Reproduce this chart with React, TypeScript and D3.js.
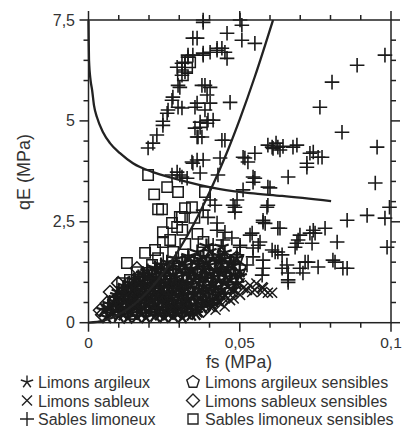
import React from 'react';
import * as d3 from 'd3';

// fs (MPa), qE (MPa)
const limonsArgileux: [number, number][] = [
  [0.006, 0.14], [0.010, 0.17], [0.013, 0.13], [0.016, 0.16], [0.019, 0.14], [0.022, 0.18], [0.025, 0.15], [0.028, 0.17], [0.031, 0.14], [0.034, 0.2],
  [0.0075, 0.23], [0.0115, 0.21], [0.0145, 0.24], [0.0175, 0.22], [0.0205, 0.25], [0.0235, 0.21], [0.0265, 0.23], [0.0295, 0.22], [0.0325, 0.24], [0.0355, 0.22],
  [0.005, 0.31], [0.008, 0.28], [0.011, 0.33], [0.014, 0.29], [0.017, 0.32], [0.020, 0.3], [0.023, 0.34], [0.026, 0.28], [0.029, 0.31], [0.032, 0.35], [0.036, 0.3],
  [0.0065, 0.38], [0.0095, 0.4], [0.0125, 0.37], [0.0155, 0.39], [0.0185, 0.38], [0.0215, 0.4], [0.0245, 0.37], [0.0275, 0.39], [0.0305, 0.38], [0.0335, 0.41], [0.0375, 0.38], [0.041, 0.42],
  [0.007, 0.46], [0.010, 0.43], [0.013, 0.48], [0.016, 0.44], [0.019, 0.47], [0.022, 0.45], [0.025, 0.49], [0.028, 0.43], [0.031, 0.47], [0.035, 0.45], [0.039, 0.5],
  [0.0085, 0.53], [0.0115, 0.55], [0.0145, 0.52], [0.0175, 0.54], [0.0205, 0.53], [0.0235, 0.55], [0.0265, 0.52], [0.0295, 0.54], [0.0325, 0.53], [0.036, 0.55], [0.040, 0.52], [0.043, 0.56],
  [0.009, 0.61], [0.012, 0.58], [0.015, 0.63], [0.018, 0.6], [0.021, 0.57], [0.024, 0.62], [0.027, 0.59], [0.030, 0.64], [0.033, 0.6], [0.037, 0.62], [0.041, 0.58],
  [0.0095, 0.68], [0.0125, 0.7], [0.0155, 0.67], [0.0185, 0.69], [0.0215, 0.68], [0.0245, 0.7], [0.0275, 0.67], [0.0305, 0.69], [0.0345, 0.68], [0.038, 0.7], [0.042, 0.67], [0.045, 0.7],
  [0.010, 0.76], [0.013, 0.73], [0.016, 0.78], [0.019, 0.74], [0.022, 0.77], [0.025, 0.72], [0.028, 0.76], [0.031, 0.79], [0.035, 0.74], [0.039, 0.77], [0.043, 0.73],
  [0.0115, 0.83], [0.0145, 0.85], [0.0175, 0.82], [0.0205, 0.84], [0.0235, 0.83], [0.0265, 0.85], [0.0295, 0.82], [0.0325, 0.84], [0.0365, 0.83], [0.040, 0.85], [0.044, 0.82], [0.048, 0.84],
  [0.012, 0.91], [0.015, 0.88], [0.018, 0.93], [0.021, 0.9], [0.024, 0.87], [0.027, 0.92], [0.030, 0.89], [0.034, 0.94], [0.038, 0.9], [0.042, 0.88], [0.046, 0.92],
  [0.0135, 0.98], [0.0165, 1.0], [0.0195, 0.97], [0.0225, 0.99], [0.0255, 0.98], [0.0285, 1.0], [0.0325, 0.97], [0.0365, 0.99], [0.041, 0.98], [0.045, 1.0], [0.049, 0.97],
  [0.015, 1.06], [0.018, 1.03], [0.021, 1.08], [0.024, 1.04], [0.027, 1.07], [0.031, 1.02], [0.035, 1.06], [0.039, 1.09], [0.043, 1.04], [0.047, 1.07],
  [0.0165, 1.13], [0.0195, 1.15], [0.0225, 1.12], [0.0255, 1.14], [0.029, 1.13], [0.0335, 1.15], [0.0375, 1.12], [0.0415, 1.14], [0.0455, 1.13], [0.05, 1.15],
  [0.018, 1.21], [0.021, 1.18], [0.024, 1.23], [0.028, 1.19], [0.032, 1.22], [0.036, 1.17], [0.040, 1.21], [0.044, 1.24], [0.048, 1.19],
  [0.0195, 1.28], [0.0225, 1.3], [0.026, 1.27], [0.030, 1.29], [0.034, 1.28], [0.038, 1.3], [0.042, 1.27], [0.046, 1.29], [0.05, 1.28],
  [0.022, 1.36], [0.026, 1.33], [0.030, 1.38], [0.034, 1.34], [0.038, 1.37], [0.042, 1.32], [0.046, 1.36],
  [0.024, 1.43], [0.028, 1.45], [0.032, 1.42], [0.036, 1.44], [0.040, 1.43], [0.044, 1.45], [0.048, 1.42],
  [0.026, 1.5], [0.031, 1.48], [0.035, 1.52], [0.039, 1.49], [0.043, 1.53], [0.047, 1.47],
  [0.029, 1.58], [0.033, 1.6], [0.037, 1.57], [0.041, 1.59], [0.045, 1.58], [0.049, 1.6],
  [0.033, 1.65], [0.038, 1.63], [0.043, 1.67],
  [0.036, 1.75], [0.040, 1.77], [0.045, 1.74], [0.039, 1.9], [0.044, 1.88],
];

const limonsSableux: [number, number][] = [
  [0.0336, 0.36], [0.0379, 0.49], [0.0412, 0.51], [0.0445, 0.61], [0.0478, 0.74], [0.0511, 0.86], [0.0534, 0.93], [0.055, 0.81],
  [0.0574, 0.88], [0.0593, 0.74], [0.0574, 0.76], [0.0524, 0.81], [0.0501, 0.69], [0.0468, 0.56], [0.0435, 0.49], [0.0402, 0.39],
  [0.0379, 0.36], [0.0607, 0.74], [0.0577, 0.86], [0.0541, 0.76], [0.0302, 0.31], [0.0269, 0.24], [0.0236, 0.19], [0.039, 0.6],
  [0.043, 0.7], [0.047, 0.85], [0.05, 0.98], [0.045, 0.4], [0.042, 0.32], [0.036, 0.25], [0.048, 0.6], [0.0555, 0.97],
];

const sablesLimoneux: [number, number][] = [
  [0.0197, 4.33], [0.0213, 4.45], [0.0226, 4.65], [0.0246, 4.89], [0.0246, 4.99], [0.0263, 5.27], [0.0296, 5.34], [0.0279, 5.59],
  [0.0296, 5.88], [0.0309, 6.13], [0.0293, 6.33], [0.0319, 6.45], [0.0329, 6.63], [0.0345, 6.63], [0.0359, 7.05], [0.0379, 7.44],
  [0.0392, 5.64], [0.0375, 5.88], [0.0385, 5.88], [0.0402, 5.83], [0.0359, 5.44], [0.0402, 5.44], [0.0369, 4.97], [0.0395, 5.02],
  [0.0379, 6.68], [0.0402, 6.7], [0.0425, 6.8], [0.0345, 7.05], [0.0329, 6.58], [0.0309, 6.43], [0.0319, 6.21], [0.0302, 5.83],
  [0.0276, 5.51], [0.0309, 5.32], [0.026, 5.19], [0.0352, 5.34], [0.0352, 4.82], [0.0359, 4.6], [0.0369, 4.84], [0.0392, 4.94],
  [0.0362, 4.6], [0.0359, 4.03], [0.0342, 3.98], [0.0369, 3.71], [0.0293, 3.73], [0.0276, 3.66], [0.0309, 3.61], [0.0326, 3.58],
  [0.0345, 3.95], [0.0302, 3.66], [0.0402, 3.04], [0.0395, 2.61], [0.0425, 2.47], [0.0379, 2.79],
  [0.0379, 7.5], [0.0501, 7.5], [0.0507, 7.37], [0.0458, 7.17], [0.0507, 7.0], [0.055, 6.92], [0.0441, 6.8], [0.0451, 6.7],
  [0.0458, 6.55], [0.0425, 6.75], [0.0379, 6.63], [0.0385, 5.27], [0.0468, 5.46], [0.0412, 5.02], [0.0451, 4.52], [0.0375, 4.6],
  [0.098, 6.63], [0.0888, 6.38], [0.0805, 5.96], [0.0765, 5.34], [0.0838, 4.72], [0.0954, 4.35], [0.0948, 3.46], [0.0995, 2.86],
  [0.098, 2.59], [0.0987, 1.87],
  [0.061, 4.32], [0.0626, 4.35], [0.0607, 4.35], [0.062, 4.45], [0.0633, 4.28], [0.0593, 4.4], [0.0643, 4.37], [0.0676, 4.35],
  [0.0689, 4.4], [0.0732, 4.2], [0.0743, 4.23], [0.0772, 4.1], [0.0759, 4.1], [0.0722, 3.95], [0.0722, 3.85], [0.0527, 3.98],
  [0.055, 4.2], [0.0511, 4.1], [0.0435, 4.08], [0.0379, 4.03], [0.0441, 4.52], [0.0517, 4.08], [0.0428, 3.66], [0.0544, 3.61],
  [0.066, 3.61], [0.055, 3.58], [0.06, 3.34], [0.059, 2.86], [0.0484, 2.86], [0.0491, 3.04], [0.0577, 2.54], [0.0626, 2.34],
  [0.0418, 2.91], [0.0478, 2.91], [0.0484, 2.74], [0.0593, 2.91], [0.0577, 2.49], [0.0633, 2.34], [0.0541, 2.22], [0.0567, 2.0],
  [0.0501, 1.87], [0.0607, 1.8], [0.0626, 1.75], [0.0577, 1.55], [0.064, 1.35], [0.066, 1.23], [0.0699, 2.17], [0.0689, 1.97],
  [0.0683, 1.87], [0.0726, 1.5], [0.0732, 2.22], [0.0743, 2.29], [0.0782, 2.34], [0.0739, 1.97], [0.0822, 2.0], [0.0808, 1.55],
  [0.0815, 1.5], [0.0841, 1.35], [0.0759, 1.38], [0.0699, 1.35], [0.0709, 1.23], [0.066, 1.06], [0.0855, 2.54], [0.0921, 2.66],
  [0.0511, 3.29], [0.0544, 3.48], [0.0593, 3.36],
  [0.0425, 2.29], [0.0451, 2.24], [0.0445, 2.05], [0.0474, 2.1], [0.0501, 1.92], [0.0534, 2.17], [0.0544, 1.85], [0.0491, 1.68],
  [0.0524, 1.43], [0.0412, 1.92], [0.0435, 1.68], [0.0584, 2.46], [0.0749, 2.22], [0.0693, 2.05], [0.0617, 1.75], [0.064, 1.68],
  [0.0561, 1.92], [0.0544, 1.63], [0.0577, 1.35], [0.0656, 1.43], [0.0716, 1.5], [0.0855, 1.35], [0.066, 1.0], [0.0574, 1.18],
];

const limonsArgileuxSensibles: [number, number][] = [
  [0.012, 0.36], [0.017, 0.52], [0.021, 0.68], [0.026, 0.84], [0.029, 1.0], [0.033, 1.14], [0.037, 1.28], [0.041, 1.43],
  [0.045, 1.6], [0.015, 0.22], [0.024, 0.38], [0.03, 0.54], [0.036, 0.7], [0.04, 0.95], [0.045, 1.15], [0.02, 1.0],
  [0.025, 1.3], [0.05, 1.35], [0.049, 1.6], [0.011, 0.62],
];

const limonsSableuxSensibles: [number, number][] = [
  [0.016, 1.35], [0.0098, 0.98], [0.0071, 0.76], [0.0061, 0.49], [0.0038, 0.31], [0.0045, 0.2], [0.0085, 0.55], [0.012, 0.8],
  [0.014, 0.62], [0.02, 0.4], [0.027, 0.3], [0.018, 0.85], [0.034, 0.45], [0.038, 0.3], [0.044, 0.6], [0.026, 1.12],
];

const sablesLimoneuxSensibles: [number, number][] = [
  [0.0197, 3.66], [0.0217, 3.18], [0.026, 3.36], [0.0296, 3.24], [0.0385, 3.24], [0.023, 2.81], [0.0243, 2.81], [0.0319, 2.84],
  [0.0342, 2.86], [0.0309, 2.62], [0.0276, 2.47], [0.0293, 2.37], [0.0326, 6.31], [0.0312, 6.13], [0.0336, 6.45], [0.0302, 2.62],
  [0.0246, 2.0], [0.0246, 2.24], [0.022, 1.8], [0.0187, 1.73], [0.0127, 1.48], [0.021, 1.43], [0.0203, 1.23], [0.017, 1.06],
  [0.0137, 1.06], [0.0111, 0.98], [0.023, 1.6], [0.028, 1.75], [0.032, 1.95], [0.036, 2.2], [0.035, 2.6], [0.038, 2.0],
  [0.016, 1.25], [0.027, 2.05], [0.031, 2.3],
];

// boundary curves
const curveFalling: [number, number][] = [
  [0, 7.49], [0.00007, 7.0], [0.00017, 6.5], [0.0007, 6.0], [0.0012, 5.76], [0.0018, 5.39], [0.0028, 5.09], [0.0048, 4.72],
  [0.0071, 4.45], [0.0104, 4.2], [0.0147, 3.95], [0.0213, 3.73], [0.0279, 3.58], [0.0369, 3.41], [0.0435, 3.31], [0.0534, 3.21],
  [0.064, 3.14], [0.0802, 3.01],
];
const curveRising: [number, number][] = [
  [0, 0], [0.005, 0.05], [0.01, 0.2], [0.015, 0.45], [0.02, 0.8], [0.025, 1.26], [0.03, 1.82], [0.035, 2.47],
  [0.04, 3.23], [0.045, 4.08], [0.05, 5.04], [0.055, 6.1], [0.061, 7.5],
];

const xMajor = [0, 0.05, 0.1];
const xMajorLabels = ['0', '0,05', '0,1'];
const yMajor = [0, 2.5, 5, 7.5];
const yMajorLabels = ['0', '2,5', '5', '7,5'];

const legendItems = [
  { label: 'Limons argileux', shape: 'star' },
  { label: 'Limons sableux', shape: 'x' },
  { label: 'Sables limoneux', shape: 'plus' },
  { label: 'Limons argileux sensibles', shape: 'pentagon' },
  { label: 'Limons sableux sensibles', shape: 'diamond' },
  { label: 'Sables limoneux sensibles', shape: 'square' },
];

const ink = '#222';
const font = '"Liberation Sans", Arial, sans-serif';

function shapePath(shape: string, s: number): string {
  switch (shape) {
    case 'plus':
      return `M${-s},0H${s}M0,${-s}V${s}`;
    case 'x':
      return `M${-s},${-s}L${s},${s}M${-s},${s}L${s},${-s}`;
    case 'square':
      return `M${-s},${-s}H${s}V${s}H${-s}Z`;
    case 'diamond':
      return `M0,${-s}L${s},0L0,${s}L${-s},0Z`;
    case 'pentagon': {
      const pts = d3.range(5).map(i => {
        const a = -Math.PI / 2 + (i * 2 * Math.PI) / 5;
        return [s * Math.cos(a), s * Math.sin(a)];
      });
      return 'M' + pts.map(p => p.join(',')).join('L') + 'Z';
    }
    case 'star': {
      return d3.range(5).map(i => {
        const a = -Math.PI / 2 + (i * 2 * Math.PI) / 5;
        return `M0,0L${s * Math.cos(a)},${s * Math.sin(a)}`;
      }).join('');
    }
  }
  return '';
}

const App = () => {
  const width = 402;
  const height = 445;
  const x = d3.scaleLinear().domain([0, 0.1]).range([88.5, 391]);
  const y = d3.scaleLinear().domain([0, 7.5]).range([322.7, 20]);

  const xMinor = d3.range(0, 0.1001, 0.01);
  const yMinor = d3.range(0, 7.501, 0.5);

  const line = d3.line<[number, number]>()
    .x(d => x(d[0]))
    .y(d => y(d[1]))
    .curve(d3.curveMonotoneX);

  const series = [
    { data: limonsArgileux, shape: 'star', size: 7.5, sw: 2.3 },
    { data: limonsArgileuxSensibles, shape: 'pentagon', size: 6.5, sw: 1.8 },
    { data: limonsSableux, shape: 'x', size: 5, sw: 1.5 },
    { data: limonsSableuxSensibles, shape: 'diamond', size: 6.5, sw: 1.5 },
    { data: sablesLimoneuxSensibles, shape: 'square', size: 5.2, sw: 1.5 },
    { data: sablesLimoneux, shape: 'plus', size: 7.3, sw: 1.6 },
  ];

  const [x0, x1] = x.range();
  const [y0, y1] = y.range();

  return (
    <svg width={width} height={height} viewBox={`0 0 ${width} ${height}`}
      style={{ position: 'absolute', left: 0, top: 0, background: '#fff' }}>
      <rect width={width} height={height} fill="#fff" />

      {series.map((s, si) => (
        <g key={si} stroke="#1a1a1a" strokeWidth={s.sw} fill="none">
          {s.data.map((d, i) => (
            <path key={i} transform={`translate(${x(d[0])},${y(d[1])})`} d={shapePath(s.shape, s.size)} />
          ))}
        </g>
      ))}

      <path d={line(curveFalling) || ''} fill="none" stroke={ink} strokeWidth={2.3} />
      <path d={line(curveRising) || ''} fill="none" stroke={ink} strokeWidth={2.3} />

      {/* frame */}
      <g stroke={ink} strokeWidth={1.5} fill="none">
        <rect x={x0} y={y1} width={x1 - x0} height={y0 - y1} />
        {xMinor.map((v, i) => {
          const major = xMajor.some(m => Math.abs(m - v) < 1e-9);
          const len = major ? 9 : 5;
          return (
            <g key={i}>
              <line x1={x(v)} x2={x(v)} y1={y0} y2={y0 + len} />
              <line x1={x(v)} x2={x(v)} y1={y1} y2={y1 - len} />
            </g>
          );
        })}
        {yMinor.map((v, i) => {
          const major = yMajor.some(m => Math.abs(m - v) < 1e-9);
          const len = major ? 9 : 5;
          return (
            <g key={i}>
              <line x1={x0} x2={x0 - len} y1={y(v)} y2={y(v)} />
              <line x1={x1} x2={x1 + len} y1={y(v)} y2={y(v)} />
            </g>
          );
        })}
      </g>

      <g fontFamily={font} fontSize={15.5} fill="#333">
        {xMajor.map((v, i) => (
          <text key={i} x={x(v)} y={348} textAnchor="middle">{xMajorLabels[i]}</text>
        ))}
        {yMajor.map((v, i) => (
          <text key={i} x={75} y={y(v) + 5.5} textAnchor="end" fontSize={16}>{yMajorLabels[i]}</text>
        ))}
        <text x={239} y={367.5} textAnchor="middle" fontSize={17.5}>fs (MPa)</text>
        <text transform="translate(30,172) rotate(-90)" textAnchor="middle" fontSize={18}>qE (MPa)</text>
      </g>

      <g fontFamily={font} fontSize={16} fill="#333">
        {legendItems.map((it, i) => {
          const col = Math.floor(i / 3);
          const row = i % 3;
          const sx = col === 0 ? 27 : 193;
          const tx = col === 0 ? 38 : 205;
          const cy = 382 + row * 18.5;
          const size = it.shape === 'plus' ? 7 : it.shape === 'square' ? 5 : it.shape === 'x' ? 5 : 6.5;
          return (
            <g key={i}>
              <path transform={`translate(${sx},${cy})`} d={shapePath(it.shape, size)} fill="none" stroke={ink} strokeWidth={1.4} />
              <text x={tx} y={cy + 6}>{it.label}</text>
            </g>
          );
        })}
      </g>
    </svg>
  );
};

export default App;
